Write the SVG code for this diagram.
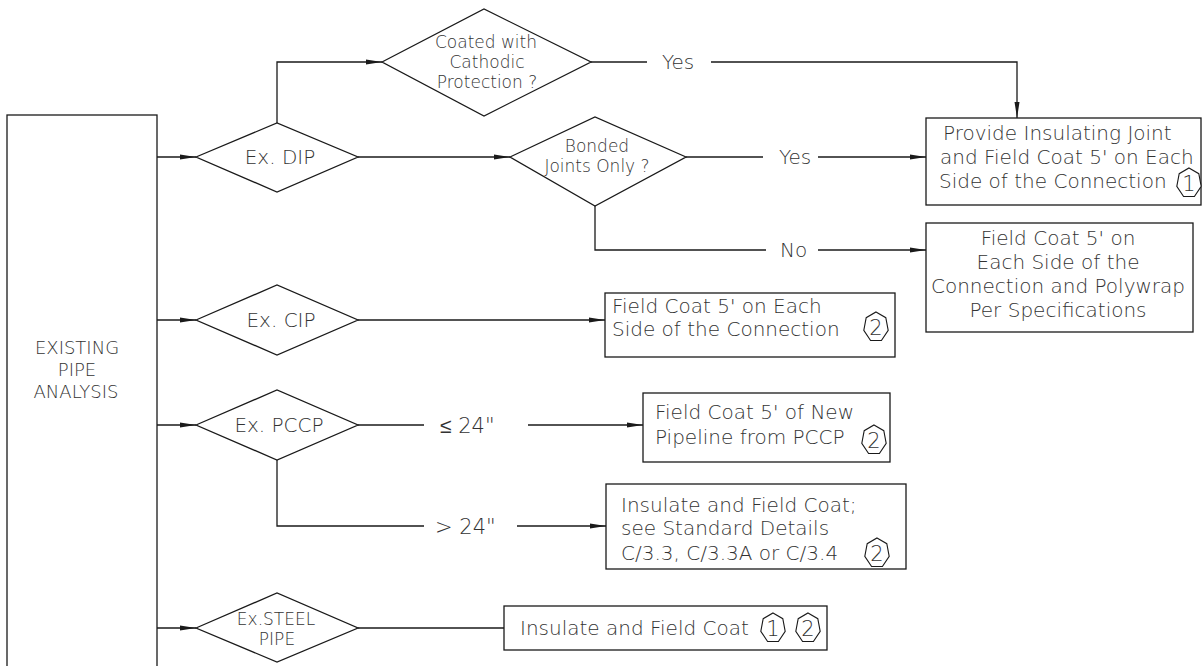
<svg xmlns="http://www.w3.org/2000/svg" xmlns:xlink="http://www.w3.org/1999/xlink" width="1204" height="666" viewBox="0 0 1204 666">
<style>
.ln{stroke:#1a1a1a;stroke-width:1.3;fill:none}
.sh{fill:#fff;stroke:#1a1a1a;stroke-width:1.3}
.t{font-family:"DejaVu Sans","Liberation Sans",sans-serif;font-size:20px;fill:#333;font-weight:200}
.s{font-size:17px}
.c{text-anchor:middle}
.tg{font-family:"DejaVu Sans","Liberation Sans",sans-serif;font-size:21px;fill:#333;font-weight:200;text-anchor:middle}
</style>
<defs>
<marker id="arr" markerWidth="17" markerHeight="8" refX="16" refY="3.5" orient="auto" markerUnits="userSpaceOnUse">
<path d="M0,1 L16,3.5 L0,6 z" fill="#1a1a1a"/>
</marker>
<polygon id="tag" points="0,-15 9.8,-9.3 12.2,3.3 5.4,13.5 -5.4,13.5 -12.2,3.3 -9.8,-9.3" fill="#fff" stroke="#1a1a1a" stroke-width="1.1"/>
</defs>
<rect width="1204" height="666" fill="#fff"/>

<g id="connectors">
<path class="ln" d="M157,157 H196" marker-end="url(#arr)"/>
<path class="ln" d="M157,320 H196" marker-end="url(#arr)"/>
<path class="ln" d="M157,425 H196" marker-end="url(#arr)"/>
<path class="ln" d="M157,628 H196" marker-end="url(#arr)"/>
<path class="ln" d="M277,123 V62 H382" marker-end="url(#arr)"/>
<path class="ln" d="M591,62 H647"/>
<path class="ln" d="M711,62 H1017 V118" marker-end="url(#arr)"/>
<path class="ln" d="M358,157 H510" marker-end="url(#arr)"/>
<path class="ln" d="M686,157 H763"/>
<path class="ln" d="M818,157 H926" marker-end="url(#arr)"/>
<path class="ln" d="M595,206 V250 H766"/>
<path class="ln" d="M818,250 H926" marker-end="url(#arr)"/>
<path class="ln" d="M358,320 H605" marker-end="url(#arr)"/>
<path class="ln" d="M358,425 H424"/>
<path class="ln" d="M528,425 H643" marker-end="url(#arr)"/>
<path class="ln" d="M277,460 V526 H424"/>
<path class="ln" d="M517,526 H606" marker-end="url(#arr)"/>
<path class="ln" d="M358,628 H504"/>
<text class="t" x="662" y="69">Yes</text>
<text class="t" x="779" y="164">Yes</text>
<text class="t" x="780" y="257">No</text>
<text class="t" style="font-size:21px" x="440" y="433">≤ 24"</text>
<text class="t" style="font-size:21px" x="435" y="534">&gt; 24"</text>
</g>

<g id="existing">
<rect class="sh" x="7" y="115" width="150" height="600"/>
<text class="t c" style="font-size:18px"><tspan x="77" y="354">EXISTING</tspan><tspan x="77" y="376">PIPE</tspan><tspan x="76" y="398">ANALYSIS</tspan></text>
</g>

<g id="coated">
<polygon class="sh" points="382,62 484,9 591,62 484,116"/>
<text class="t s c"><tspan x="486" y="48">Coated with</tspan><tspan x="487" y="68">Cathodic</tspan><tspan x="487" y="88">Protection ?</tspan></text>
</g>

<g id="dip">
<polygon class="sh" points="196,157 277,123 358,157 277,192"/>
<text class="t c" x="280" y="164">Ex. DIP</text>
</g>

<g id="bonded">
<polygon class="sh" points="510,157 595,117 686,157 595,206"/>
<text class="t s c"><tspan x="597" y="152">Bonded</tspan><tspan x="597" y="172">Joints Only ?</tspan></text>
</g>

<g id="box-insulating-joint">
<rect class="sh" x="926" y="118" width="275" height="87"/>
<text class="t"><tspan x="943" y="140">Provide Insulating Joint</tspan><tspan x="940" y="164">and Field Coat 5' on Each</tspan><tspan x="939" y="188">Side of the Connection</tspan></text>
<use xlink:href="#tag" x="1189" y="183"/>
<text class="tg" x="1189" y="191">1</text>
</g>

<g id="box-polywrap">
<rect class="sh" x="926" y="223" width="267" height="109"/>
<text class="t c"><tspan x="1058" y="245">Field Coat 5' on</tspan><tspan x="1058" y="269">Each Side of the</tspan><tspan x="1058" y="293">Connection and Polywrap</tspan><tspan x="1058" y="317">Per Specifications</tspan></text>
</g>

<g id="cip">
<polygon class="sh" points="196,320 277,285 358,320 277,355"/>
<text class="t c" x="281" y="327">Ex. CIP</text>
</g>

<g id="box-cip">
<rect class="sh" x="605" y="293" width="290" height="64"/>
<text class="t"><tspan x="612" y="313">Field Coat 5' on Each</tspan><tspan x="612" y="336">Side of the Connection</tspan></text>
<use xlink:href="#tag" x="876" y="327"/>
<text class="tg" x="876" y="335">2</text>
</g>

<g id="pccp">
<polygon class="sh" points="196,425 277,390 358,425 277,460"/>
<text class="t c" x="279" y="432">Ex. PCCP</text>
</g>

<g id="box-pccp-small">
<rect class="sh" x="643" y="393" width="247" height="69"/>
<text class="t"><tspan x="655" y="419">Field Coat 5' of New</tspan><tspan x="655" y="444">Pipeline from PCCP</tspan></text>
<use xlink:href="#tag" x="874" y="440"/>
<text class="tg" x="874" y="448">2</text>
</g>

<g id="box-pccp-large">
<rect class="sh" x="606" y="484" width="300" height="85"/>
<text class="t"><tspan x="621" y="512">Insulate and Field Coat;</tspan><tspan x="621" y="535">see Standard Details</tspan><tspan x="621" y="560">C/3.3, C/3.3A or C/3.4</tspan></text>
<use xlink:href="#tag" x="877" y="553"/>
<text class="tg" x="877" y="561">2</text>
</g>

<g id="steel">
<polygon class="sh" points="196,628 277,593 358,628 277,662"/>
<text class="t c" style="font-size:17px"><tspan x="276" y="625">Ex.STEEL</tspan><tspan x="277" y="645">PIPE</tspan></text>
</g>

<g id="box-steel">
<rect class="sh" x="504" y="606" width="323" height="44"/>
<text class="t" x="520" y="635">Insulate and Field Coat</text>
<use xlink:href="#tag" x="773" y="628"/>
<text class="tg" x="773" y="636">1</text>
<use xlink:href="#tag" x="808" y="628"/>
<text class="tg" x="808" y="636">2</text>
</g>
</svg>
